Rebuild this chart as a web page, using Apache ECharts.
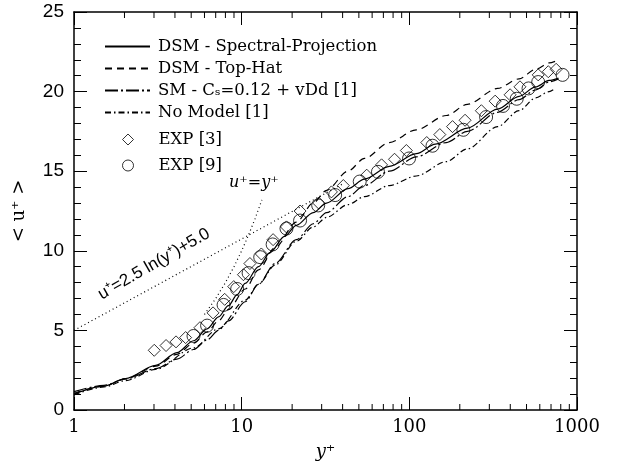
<!DOCTYPE html>
<html><head><meta charset="utf-8">
<script src="https://cdn.jsdelivr.net/npm/echarts@6/dist/echarts.min.js"></script>
<style>html,body{margin:0;padding:0;background:#fff}#c{width:633px;height:466px}</style>
</head><body><div id="c"></div>
<script>
// ---- data ----
const xTickLabels = ['1', '10', '100', '1000'];
const yTickLabels = ['0', '5', '10', '15', '20', '25'];
const minorTicksX = [2,3,4,5,6,7,8,9,20,30,40,50,60,70,80,90,200,300,400,500,600,700,800,900];

const dsmSpectral = [[1,1.0],[1.51,1.5],[2.03,1.98],[3.07,2.8],[4.11,3.6],[5.16,4.35],[6.22,5.1],[7.28,5.85],[8.34,6.55],[9.4,7.25],[10.5,7.95],[12.6,9.0],[14.8,9.9],[18.0,10.9],[21.2,11.6],[26.7,12.4],[32.1,13.0],[43,13.9],[54,14.5],[76,15.3],[110,16.1],[143,16.7],[222,17.7],[336,18.9],[451,19.7],[566,20.3],[682,20.7],[775,20.85]];
const dsmTopHat = [[1,1.05],[1.51,1.5],[2.03,1.95],[3.07,2.75],[4.11,3.5],[5.16,4.2],[6.22,4.9],[7.28,5.6],[8.34,6.3],[10.5,7.6],[12.6,8.8],[15.8,10.2],[21.2,11.8],[26.7,13.0],[32.1,13.8],[43,15.0],[54,15.8],[76,16.8],[110,17.6],[166,18.5],[222,19.2],[336,20.2],[451,20.8],[566,21.4],[682,21.8],[740,21.9]];
const smVdd = [[1,1.15],[1.51,1.55],[2.03,1.95],[3.07,2.6],[4.11,3.2],[5.16,3.8],[6.22,4.4],[7.28,5.0],[8.34,5.6],[10.5,6.8],[12.6,7.9],[15.8,9.2],[21.2,10.7],[26.7,11.7],[32.1,12.4],[43,13.4],[54,14.1],[76,15.0],[110,15.9],[166,16.8],[222,17.5],[336,18.7],[451,19.5],[566,20.1],[682,20.6],[775,20.8]];
const noModel = [[1,0.95],[1.51,1.45],[2.03,1.85],[3.07,2.55],[5.16,3.9],[7.28,5.1],[10.5,6.9],[12.6,7.9],[15.8,9.1],[21.2,10.6],[26.7,11.5],[32.1,12.1],[43,12.9],[54,13.4],[76,14.1],[110,14.7],[166,15.6],[222,16.4],[336,17.8],[451,18.8],[566,19.6],[682,20.0],[740,20.2]];
const exp3 = [[3.01,3.75],[3.54,4.05],[4.06,4.28],[4.63,4.55],[5.64,5.17],[6.75,6.1],[7.92,6.95],[8.97,7.75],[10.25,8.5],[11.2,9.2],[13.1,9.8],[15.4,10.7],[18.5,11.5],[22.3,12.5],[28.8,13.0],[34.3,13.7],[40.4,14.1],[55.7,14.75],[68.3,15.4],[81.6,15.75],[96,16.3],[127,16.8],[152,17.3],[181,17.8],[215,18.2],[269,18.8],[325,19.4],[399,19.8],[457,20.3],[587,21.05],[674,21.25],[751,21.4]];
const exp9 = [[5.16,4.65],[6.22,5.3],[7.8,6.6],[9.4,7.6],[11.0,8.6],[12.9,9.6],[15.3,10.4],[18.5,11.4],[22.3,11.9],[28.6,12.85],[36.1,13.5],[50.6,14.35],[65,14.96],[99.6,15.8],[137.5,16.6],[210,17.6],[287,18.4],[362,19.1],[437,19.55],[514,20.2],[587,20.6],[820,21.05]];
const viscousLaw = [[6,6],[7,7],[8,8],[9,9],[10,10],[11,11],[12,12],[13.2,13.2]];
const logLaw = [[1,5.0],[40,14.2]];

const names = ['DSM - Spectral-Projection','DSM - Top-Hat','SM - C\u209B=0.12 + vDd [1]','No Model [1]','EXP [3]','EXP [9]'];

const chart = echarts.init(document.getElementById('c'), null, {renderer:'canvas'});
const blk = '#000';
function xAx(pos, labels){
  return {type:'log', logBase:10, min:1, max:1000, position:pos,
    axisLine:{show:true, onZero:false, lineStyle:{color:blk, width:1.5}},
    axisTick:{show:true, inside:true, length:13, lineStyle:{color:blk, width:1}},
    splitLine:{show:false},
    axisLabel:{show:labels, color:blk, fontSize:18, fontFamily:'DejaVu Serif', margin:8,
      formatter:v=>{const i=Math.round(Math.log10(v)); return xTickLabels[i]||'';}},
    name: labels ? 'y\u207A' : '', nameLocation:'middle', nameGap:33,
    nameTextStyle:{color:blk, fontSize:18, fontStyle:'italic', fontFamily:'DejaVu Serif'}};
}
function yAx(pos, labels){
  return {type:'value', min:0, max:25, interval:5, position:pos,
    axisLine:{show:true, onZero:false, lineStyle:{color:blk, width:1.5}},
    axisTick:{show:true, inside:true, length:13, lineStyle:{color:blk, width:1}},
    minorTick:{show:true, splitNumber:5, length:7, lineStyle:{color:blk, width:1}},
    splitLine:{show:false},
    axisLabel:{show:labels, color:blk, fontSize:19, fontFamily:'Liberation Sans', margin:10,
      formatter:v=>yTickLabels[Math.round(v/5)]},
    name: labels ? '< u\u207A >' : '', nameLocation:'middle', nameGap:46, nameRotate:90,
    nameTextStyle:{color:blk, fontSize:18, fontFamily:'DejaVu Serif'}};
}
function lineSeries(name, data, type){
  return {name, type:'line', data, symbol:'none', showSymbol:false, smooth:0.3, smoothMonotone:'x',
    lineStyle:{color:blk, width:1.2, type}, itemStyle:{color:blk}, z:3};
}
const legendText = {color:blk, fontSize:16.5, fontFamily:'DejaVu Serif'};
const option = {
  animation:false,
  backgroundColor:'#fff',
  grid:{left:74, right:56, top:12, bottom:54},
  xAxis:[xAx('bottom', true), xAx('top', false)],
  yAxis:[yAx('left', true), yAx('right', false)],
  legend:[
    {data:names.slice(0,4), orient:'vertical', left:99, top:33, itemWidth:45, itemHeight:12, itemGap:5,
      itemStyle:{opacity:0}, textStyle:Object.assign({padding:[0,0,0,3]}, legendText), selectedMode:false},
    {data:names.slice(4), orient:'vertical', left:117, top:126, itemWidth:11, itemHeight:11, itemGap:9,
      itemStyle:{color:'rgba(0,0,0,0)', borderColor:blk, borderWidth:1},
      textStyle:Object.assign({padding:[0,0,0,20]}, legendText), selectedMode:false}
  ],
  series:[
    lineSeries(names[0], dsmSpectral, 'solid'),
    lineSeries(names[1], dsmTopHat, [7,5]),
    lineSeries(names[2], smVdd, [13,3,2,3]),
    lineSeries(names[3], noModel, [6,3,1.5,3]),
    {name:names[4], type:'scatter', data:exp3, symbol:'diamond', symbolSize:12, symbolKeepAspect:true,
      itemStyle:{color:'rgba(0,0,0,0)', borderColor:blk, borderWidth:1}, z:4},
    {name:names[5], type:'scatter', data:exp9, symbol:'circle', symbolSize:13, symbolKeepAspect:true,
      itemStyle:{color:'rgba(0,0,0,0)', borderColor:blk, borderWidth:1}, z:4},
    {name:'viscous', type:'line', data:viscousLaw, symbol:'none', lineStyle:{color:blk, width:1.2, type:[1,3]}},
    {name:'loglaw', type:'line', data:logLaw, symbol:'none', lineStyle:{color:blk, width:1.2, type:[1,3]}},
    {name:'minorX', type:'custom', silent:true, clip:false, data:minorTicksX.map(v=>[v]),
      encode:{x:0},
      renderItem:(params, api)=>{
        const v = api.value(0);
        const b = api.coord([v, 0]); const t = api.coord([v, 25]);
        return {type:'group', children:[
          {type:'line', shape:{x1:b[0], y1:b[1], x2:b[0], y2:b[1]-6}, style:{stroke:blk, lineWidth:1}},
          {type:'line', shape:{x1:t[0], y1:t[1], x2:t[0], y2:t[1]+6}, style:{stroke:blk, lineWidth:1}}
        ]};
      }}
  ],
  graphic:[
    {type:'text', left:229, top:175, style:{text:'u\u207A=y\u207A', font:'italic 16px "DejaVu Serif"', fill:blk}},
    {type:'text', x:154, y:264, rotation:30*Math.PI/180,
      style:{text:'u\u207A=2.5 ln(y\u207A)+5.0', font:'17px "Liberation Sans"', fill:blk, align:'center', verticalAlign:'middle'}}
  ]
};
chart.setOption(option);
</script></body></html>
